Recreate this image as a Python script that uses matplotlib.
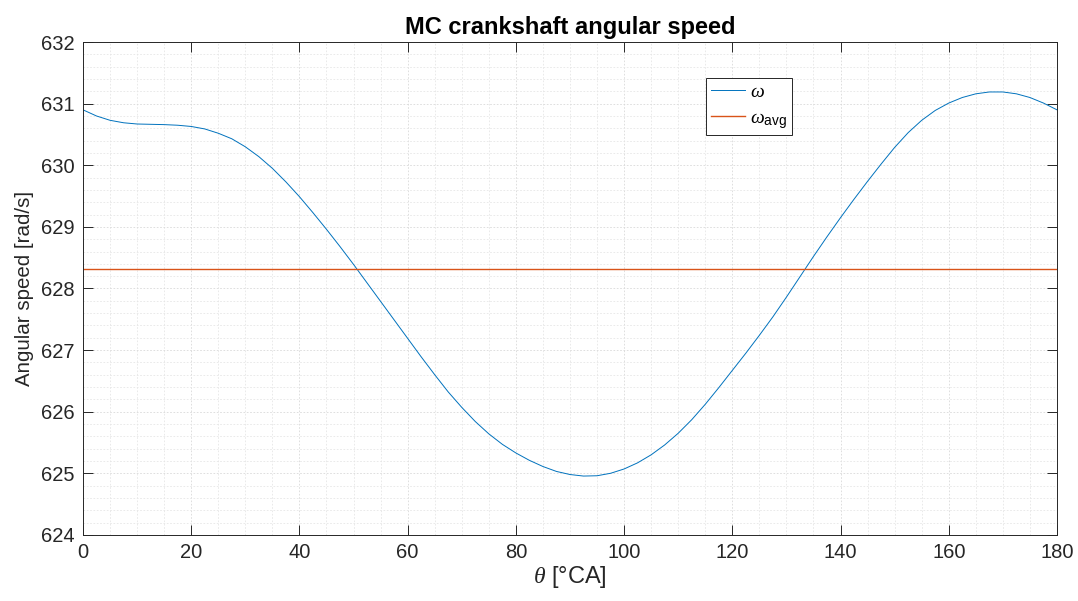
import numpy as np
import matplotlib
matplotlib.use("Agg")
import matplotlib.pyplot as plt
from matplotlib.ticker import MultipleLocator

# crank angle [deg] and crankshaft angular speed [rad/s]
theta = [0, 2.5, 5, 7.5, 10, 12.5, 15, 17.5, 20, 22.5, 25, 27.5, 30, 32.5, 35, 37.5,
         40, 42.5, 45, 47.5, 50, 52.5, 55, 57.5, 60, 62.5, 65, 67.5, 70, 72.5, 75,
         77.5, 80, 82.5, 85, 87.5, 90, 92.5, 95, 97.5, 100, 102.5, 105, 107.5, 110,
         112.5, 115, 117.5, 120, 122.5, 125, 127.5, 130, 132.5, 135, 137.5, 140,
         142.5, 145, 147.5, 150, 152.5, 155, 157.5, 160, 162.5, 165, 167.5, 170,
         172.5, 175, 177.5, 180]
omega = [630.90, 630.80, 630.73, 630.69, 630.67, 630.665, 630.66, 630.65, 630.63,
         630.59, 630.52, 630.43, 630.30, 630.14, 629.95, 629.73, 629.49, 629.23,
         628.96, 628.68, 628.39, 628.09, 627.79, 627.49, 627.19, 626.89, 626.60,
         626.32, 626.07, 625.84, 625.64, 625.47, 625.33, 625.21, 625.11, 625.03,
         624.98, 624.955, 624.96, 625.00, 625.07, 625.17, 625.30, 625.46, 625.65,
         625.87, 626.12, 626.39, 626.67, 626.95, 627.24, 627.54, 627.86, 628.19,
         628.52, 628.84, 629.15, 629.45, 629.74, 630.02, 630.29, 630.53, 630.73,
         630.89, 631.01, 631.10, 631.16, 631.19, 631.19, 631.16, 631.10, 631.01,
         630.90]
omega_avg = 628.32

plt.rcParams['font.family'] = ['Liberation Sans', 'DejaVu Sans']
plt.rcParams['mathtext.fontset'] = 'custom'
plt.rcParams['mathtext.rm'] = 'Liberation Sans'
plt.rcParams['mathtext.it'] = 'Liberation Serif:italic'

fig = plt.figure(figsize=(10.78, 6.01), dpi=100)
ax = fig.add_axes([0.077, 0.110, 0.9035, 0.820])

ax.plot(theta, omega, color='#0072BD', lw=0.7, label=r'$\omega$')
ax.plot([theta[0], theta[-1]], [omega_avg, omega_avg], color='#D95319', lw=1.0,
        label=r'$\omega_{\mathrm{avg}}$')

ax.set_xlim(0, 180)
ax.set_ylim(624, 632)
ax.xaxis.set_major_locator(MultipleLocator(20))
ax.xaxis.set_minor_locator(MultipleLocator(5))
ax.yaxis.set_major_locator(MultipleLocator(1))
ax.yaxis.set_minor_locator(MultipleLocator(0.2))

ax.grid(which='major', color='#d9d9d9', lw=0.6, ls=(0, (2, 2)))
ax.grid(which='minor', color='#e6e6e6', lw=0.6, ls=(0, (2, 2)))
ax.set_axisbelow(True)

for s in ax.spines.values():
    s.set_color('#262626')
    s.set_linewidth(0.7)
ax.tick_params(which='major', direction='in', length=7, width=0.7, color='#262626',
               top=True, right=True, labelsize=14.5, labelcolor='#262626', pad=6)
ax.tick_params(which='minor', length=0, top=True, right=True)

ax.set_xlabel(r'$\theta$ [°CA]', fontsize=17, color='#262626', labelpad=1)
ax.set_ylabel('Angular speed [rad/s]', fontsize=14.8, color='#262626', labelpad=5)
ax.set_title('MC crankshaft angular speed', fontsize=17, fontweight='bold', pad=6)

leg = ax.legend(loc='upper left', bbox_to_anchor=(0.6396, 0.927), borderaxespad=0,
                fontsize=14, frameon=True, fancybox=False, edgecolor='#262626',
                framealpha=1, handlelength=1.75, borderpad=0.25, labelspacing=0.45,
                handletextpad=0.25)
leg.get_frame().set_linewidth(0.7)

fig.savefig('out.png', dpi=100)
